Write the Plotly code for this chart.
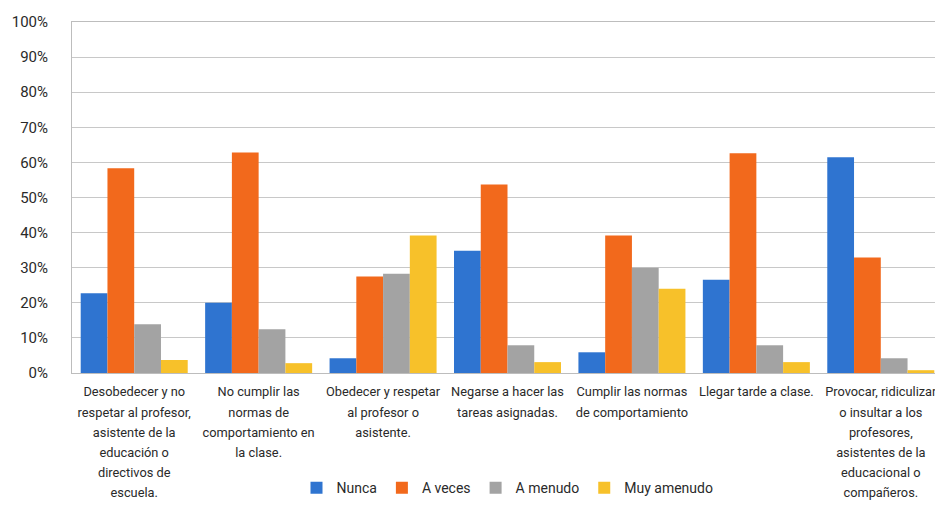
import plotly.graph_objects as go

categories = [
    "Desobedecer y no<br>respetar al profesor,<br>asistente de la<br>educación o<br>directivos de<br>escuela.",
    "No cumplir las<br>normas de<br>comportamiento en<br>la clase.",
    "Obedecer y respetar<br>al profesor o<br>asistente.",
    "Negarse a hacer las<br>tareas asignadas.",
    "Cumplir las normas<br>de comportamiento",
    "Llegar tarde a clase.",
    "Provocar, ridiculizar<br>o insultar a los<br>profesores,<br>asistentes de la<br>educacional o<br>compañeros.",
]
nunca = [22.7, 20.0, 4.2, 34.8, 5.9, 26.6, 61.5]
a_veces = [58.3, 62.8, 27.5, 53.7, 39.2, 62.6, 32.9]
a_menudo = [13.9, 12.5, 28.3, 7.9, 30.0, 7.9, 4.2]
muy_amenudo = [3.7, 2.8, 39.2, 3.1, 24.0, 3.1, 0.8]
series_names = ["Nunca", "A veces", "A menudo", "Muy amenudo"]
colors = ["#2f74d0", "#f2691c", "#a3a3a3", "#f7c12a"]

font_family = "Roboto, Liberation Sans, sans-serif"

# tick text: small glyphs inside a larger-sized text element -> wider line spacing
tick_text = ["<br>".join("<span style='font-size:12.8px'>%s</span>" % ln for ln in c.split("<br>"))
             for c in categories]

fig = go.Figure()
for name, vals, col in zip(series_names, [nunca, a_veces, a_menudo, muy_amenudo], colors):
    fig.add_trace(go.Bar(name=name, x=categories, y=vals, marker_color=col,
                         marker_line_width=0))

# page body has an 8px default margin, so the figure is sized to fit inside it
fig.update_layout(
    width=935, height=499,
    barmode="group", bargap=0.14, bargroupgap=0.0,
    margin=dict(l=64, r=0, t=14, b=134, autoexpand=False),
    paper_bgcolor="white", plot_bgcolor="white",
    font=dict(family=font_family, size=12, color="#2a2a2a"),
    legend=dict(orientation="h", x=0.5, xanchor="center", y=-0.328, yanchor="middle",
                font=dict(size=14, color="#2a2a2a"), traceorder="normal"),
    showlegend=True,
)
fig.update_yaxes(range=[0, 100], dtick=10, ticksuffix="%", showgrid=True,
                 gridcolor="#c8c8c8", gridwidth=1, zeroline=False,
                 showline=True, linecolor="#bdbdbd", mirror=True, automargin=False,
                 tickfont=dict(size=15, color="#2a2a2a"), ticks="", ticklabelstandoff=20)
fig.update_xaxes(showline=True, linecolor="#bdbdbd", mirror=True, tickangle=0,
                 automargin=False, tickmode="array", tickvals=categories, ticktext=tick_text,
                 tickfont=dict(size=15.4, color="#2a2a2a"), ticks="", ticklabelstandoff=4)

fig.write_html("out.html")
